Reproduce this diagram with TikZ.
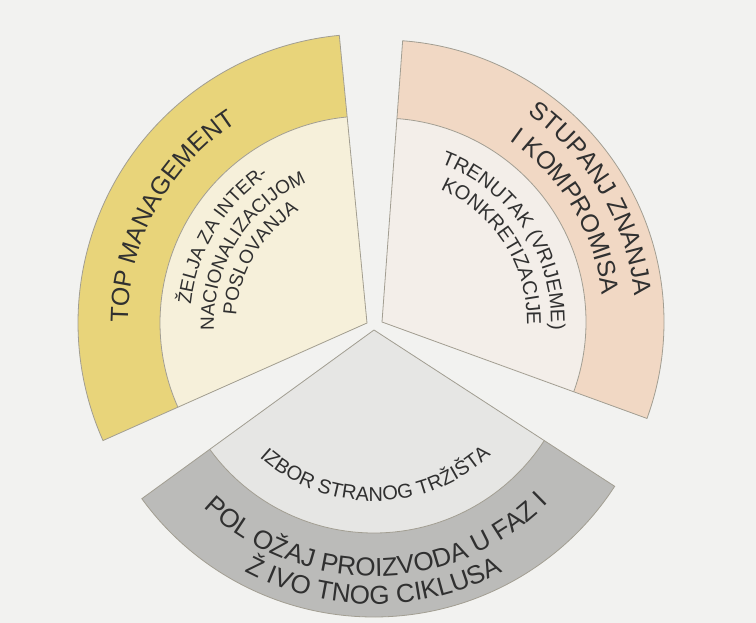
\documentclass[tikz,border=0pt]{standalone}
\usepackage{fontspec}
\setmainfont{Liberation Sans}
\usetikzlibrary{decorations.text,calc}
\definecolor{bg}{HTML}{F2F2F0}
\definecolor{yband}{HTML}{E8D47A}
\definecolor{yin}{HTML}{F6F0DA}
\definecolor{oband}{HTML}{F1D8C4}
\definecolor{oin}{HTML}{F3EEE9}
\definecolor{gband}{HTML}{BBBBB9}
\definecolor{gin}{HTML}{E6E6E4}
\definecolor{edgec}{HTML}{A29E92}
\definecolor{ink}{HTML}{303030}
\newcommand{\tfbig}{\fontsize{25}{30}\selectfont\color{ink}}
\newcommand{\tfgray}{\fontsize{26}{30}\selectfont\color{ink}}
\newcommand{\tfmid}{\fontsize{20}{24}\selectfont\color{ink}}
\newcommand{\tfsmall}{\fontsize{19}{23}\selectfont\color{ink}}
\begin{document}
\begin{tikzpicture}[x=1pt,y=1pt,
  outline/.style={draw=edgec, line width=0.8pt},
  arctext/.style={decorate, decoration={text along path, text align=center, text={#1}}}]
\fill[bg] (0,0) rectangle (756,-623);
\useasboundingbox (0,0) rectangle (756,-623);
\coordinate (Y) at (367,-323);
\coordinate (O) at (382,-322);
\coordinate (G) at (374,-330);
% yellow sector
\fill[yband] (Y) -- ++(95.5:289) arc[start angle=95.5, end angle=204, radius=289] -- cycle;
\fill[yin] (Y) -- ++(95.5:207) arc[start angle=95.5, end angle=204, radius=207] -- cycle;
\draw[outline] (Y) ++(95.5:207) arc[start angle=95.5, end angle=204, radius=207];
\draw[outline] (Y) -- ++(95.5:289) arc[start angle=95.5, end angle=204, radius=289] -- cycle;
% orange sector
\fill[oband] (O) -- ++(-20:282) arc[start angle=-20, end angle=85.8, radius=282] -- cycle;
\fill[oin] (O) -- ++(-20:204) arc[start angle=-20, end angle=85.8, radius=204] -- cycle;
\draw[outline] (O) ++(-20:204) arc[start angle=-20, end angle=85.8, radius=204];
\draw[outline] (O) -- ++(-20:282) arc[start angle=-20, end angle=85.8, radius=282] -- cycle;
% gray sector
\fill[gband] (G) -- ++(216:287) arc[start angle=216, end angle=327, radius=287] -- cycle;
\fill[gin] (G) -- ++(216:203) arc[start angle=216, end angle=327, radius=203] -- cycle;
\draw[outline] (G) ++(216:203) arc[start angle=216, end angle=327, radius=203];
\draw[outline] (G) -- ++(216:287) arc[start angle=216, end angle=327, radius=287] -- cycle;
% yellow texts
\path[arctext={|\tfbig|TOP MANAGEMENT}] ($(Y)+(211.5:239)$) arc[start angle=211.5, end angle=91.5, radius=239];
\path[arctext={|\tfsmall|ŽELJA ZA INTER-}] ($(Y)+(209:177)$) arc[start angle=209, end angle=89, radius=177];
\path[arctext={|\tfsmall|NACIONALIZACIJOM}] ($(Y)+(208:153)$) arc[start angle=208, end angle=88, radius=153];
\path[arctext={|\tfsmall|POSLOVANJA}] ($(Y)+(209:131)$) arc[start angle=209, end angle=89, radius=131];
% orange texts
\path[arctext={|\tfbig|STUPANJ ZNANJA}] ($(O)+(90.5:254)$) arc[start angle=90.5, end angle=-29.5, radius=254];
\path[arctext={|\tfbig|I KOMPROMISA}] ($(O)+(91:222)$) arc[start angle=91, end angle=-29, radius=222];
\path[arctext={|\tfmid|TRENUTAK (VRIJEME)}] ($(O)+(93.5:169)$) arc[start angle=93.5, end angle=-26.5, radius=169];
\path[arctext={|\tfmid|KONKRETIZACIJE}] ($(O)+(92.5:145)$) arc[start angle=92.5, end angle=-27.5, radius=145];
% gray texts
\path[arctext={|\tfmid|IZBOR STRANOG TRŽIŠTA}] ($(G)+(210.6:171)$) arc[start angle=210.6, end angle=330.6, radius=171];
\path[arctext={|\tfgray|POL OŽAJ PROIZVODA U FAZ I}] ($(G)+(210.8:246)$) arc[start angle=210.8, end angle=330.8, radius=246];
\path[arctext={|\tfgray|Ž IVO TNOG CIKLUSA}] ($(G)+(210:274)$) arc[start angle=210, end angle=330, radius=274];
\end{tikzpicture}
\end{document}
